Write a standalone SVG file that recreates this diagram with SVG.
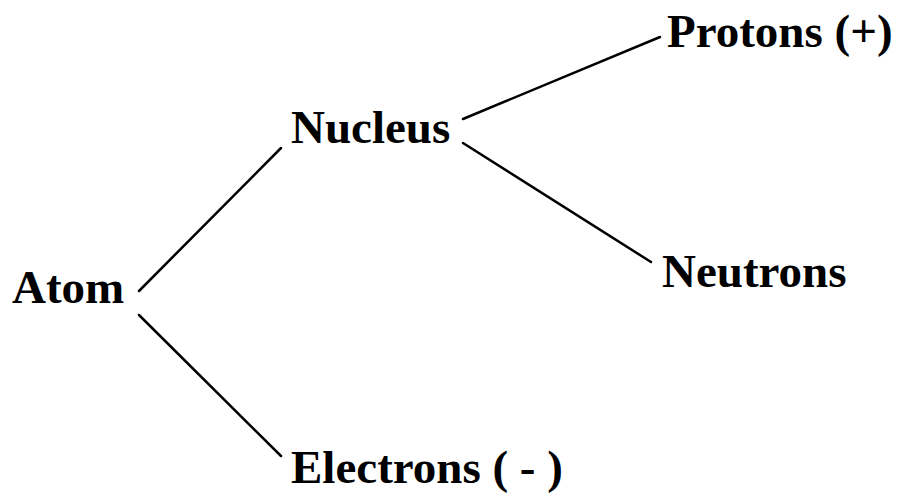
<svg xmlns="http://www.w3.org/2000/svg" width="900" height="494" viewBox="0 0 900 494">
<style>
.t{font-family:"Liberation Serif","Times New Roman",serif;font-weight:bold;font-size:47px;fill:#000}
.c line{stroke:#000;stroke-width:2.5;stroke-linecap:round}
</style>
<rect width="900" height="494" fill="#fff"/>
<g class="c" id="connectors">
<line x1="139" y1="291" x2="281" y2="148"/>
<line x1="139" y1="315" x2="281" y2="456"/>
<line x1="463" y1="119" x2="660" y2="37"/>
<line x1="463" y1="143" x2="651" y2="262"/>
</g>
<g id="atom"><text class="t" x="12" y="303">Atom</text></g>
<g id="nucleus"><text class="t" x="291" y="143">Nucleus</text></g>
<g id="protons"><text class="t" x="667" y="47">Protons (+)</text></g>
<g id="neutrons"><text class="t" x="662" y="287">Neutrons</text></g>
<g id="electrons"><text class="t" x="291" y="483">Electrons ( - )</text></g>
</svg>
